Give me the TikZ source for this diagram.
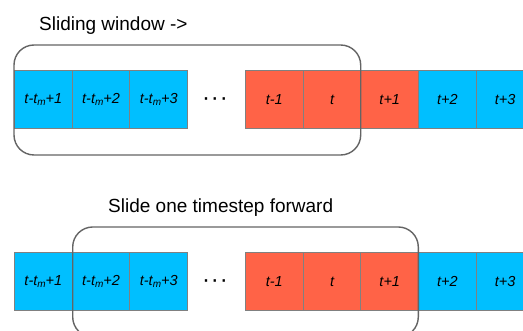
\documentclass[tikz,border=0pt]{standalone}
\usepackage{fontspec}
\setmainfont{Liberation Sans}
\definecolor{cellblue}{RGB}{0,191,255}
\definecolor{cellred}{RGB}{255,99,71}
\definecolor{cellline}{RGB}{128,128,128}
\definecolor{winline}{RGB}{100,100,100}
\tikzset{
  cell/.style={draw=cellline, line width=1pt, minimum width=57.7pt, minimum height=58pt,
    inner sep=0pt, anchor=north west, font=\fontsize{14.5}{16}\selectfont\itshape},
  bluecell/.style={cell, fill=cellblue},
  redcell/.style={cell, fill=cellred},
  window/.style={draw=winline, line width=1.4pt, rounded corners=20pt},
  title/.style={font=\fontsize{19}{22}\selectfont, anchor=base west, inner sep=0pt},
  dots/.style={font=\fontsize{24}{26}\selectfont, inner sep=0pt}
}
\newcommand{\tm}{t-t\raisebox{-1.5pt}{\fontsize{10}{10}\selectfont m}}
\begin{document}
\begin{tikzpicture}[x=1pt,y=-1pt]
\useasboundingbox[fill=white] (0,0) rectangle (523,331);
\begin{scope}
\clip (0,0) rectangle (523,331);
% top row
\node[title] (t1) at (39,31) {Sliding window ->};
\node[bluecell] (a1) at (14,70) {\tm+1};
\node[bluecell] (a2) at (71.7,70) {\tm+2};
\node[bluecell] (a3) at (129.4,70) {\tm+3};
\node[dots] (ad) at (215,102) {·\hspace{1pt}·\hspace{1pt}·};
\node[redcell] (a4) at (245,70) {t-1};
\node[redcell] (a5) at (302.7,70) {t};
\node[redcell] (a6) at (360.4,70) {t+1};
\node[bluecell] (a7) at (418.1,70) {t+2};
\node[bluecell] (a8) at (475.8,70) {t+3};
\draw[window] (14,45) rectangle (360.7,155);
% bottom row
\node[title] (t2) at (108,213) {Slide one timestep forward};
\node[bluecell] (b1) at (14,252) {\tm+1};
\node[bluecell] (b2) at (71.7,252) {\tm+2};
\node[bluecell] (b3) at (129.4,252) {\tm+3};
\node[dots] (bd) at (215,284) {·\hspace{1pt}·\hspace{1pt}·};
\node[redcell] (b4) at (245,252) {t-1};
\node[redcell] (b5) at (302.7,252) {t};
\node[redcell] (b6) at (360.4,252) {t+1};
\node[bluecell] (b7) at (418.1,252) {t+2};
\node[bluecell] (b8) at (475.8,252) {t+3};
\draw[window] (72.7,227) rectangle (418.3,337);
\end{scope}
\end{tikzpicture}
\end{document}
